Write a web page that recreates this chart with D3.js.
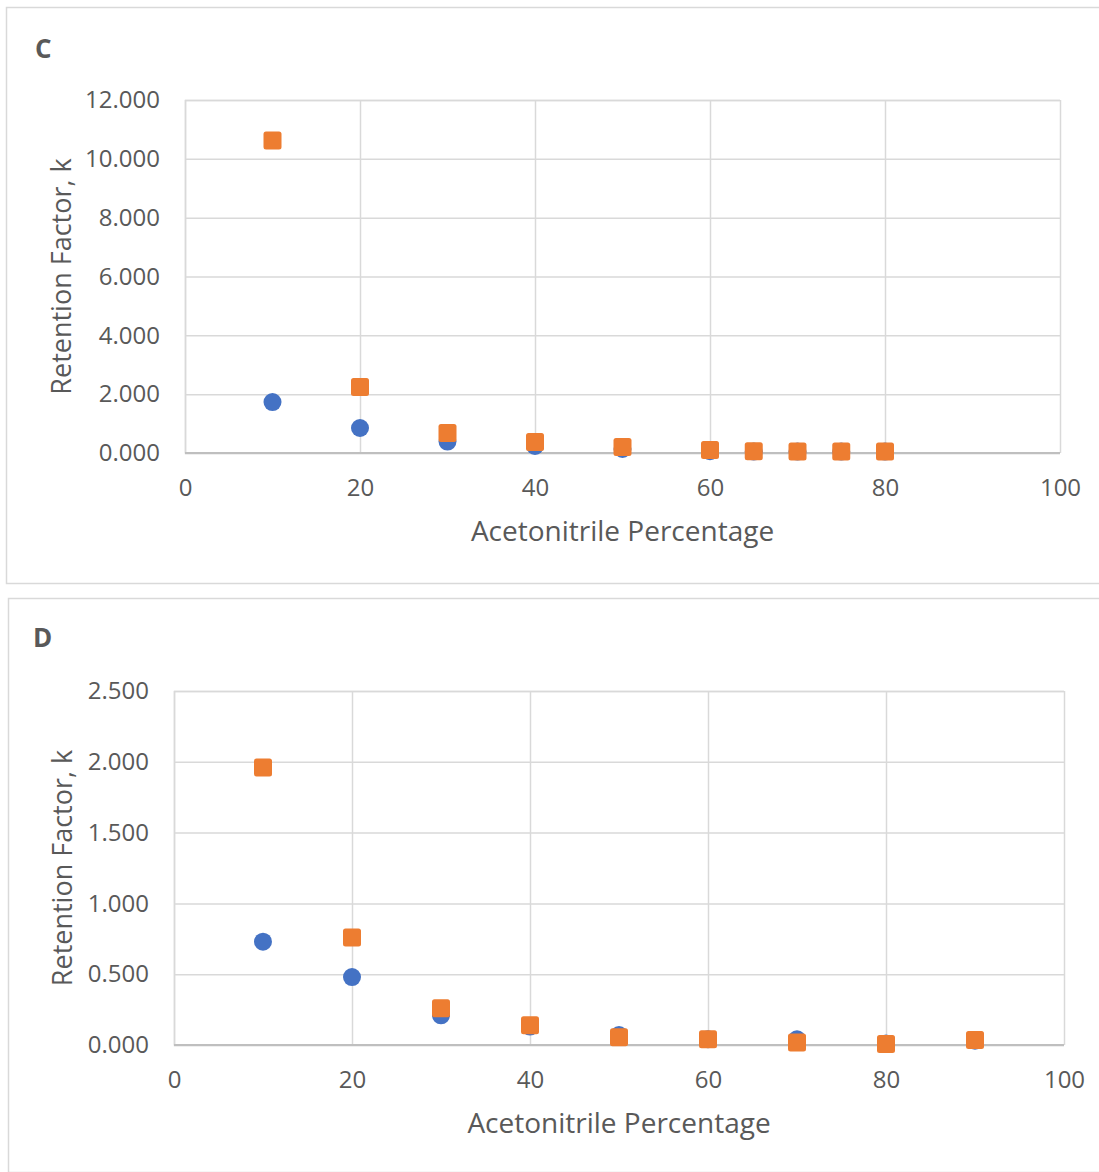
<!DOCTYPE html>
<html>
<head>
<meta charset="utf-8">
<script src="https://cdn.jsdelivr.net/npm/d3@7"></script>
<style>
  html, body { margin: 0; padding: 0; background: #ffffff; }
  svg { display: block; }
  text { font-family: "Open Sans", "Noto Sans", sans-serif; fill: #595959; }
</style>
</head>
<body>
<svg id="chart" width="1099" height="1172"></svg>
<script>
// Acetonitrile percentage (x) and retention factor k (y) for each panel
const acnC = [10, 20, 30, 40, 50, 60, 65, 70, 75, 80];
const kBlueC = [1.73, 0.85, 0.39, 0.24, 0.14, 0.06, 0.05, 0.05, 0.05, 0.05];
const kOrangeC = [10.62, 2.24, 0.68, 0.37, 0.20, 0.10, 0.06, 0.05, 0.05, 0.05];

const acnD = [10, 20, 30, 40, 50, 60, 70, 80, 90];
const kBlueD = [0.73, 0.48, 0.21, 0.13, 0.07, 0.04, 0.04, 0.01, 0.03];
const kOrangeD = [1.96, 0.76, 0.26, 0.14, 0.055, 0.04, 0.017, 0.007, 0.035];

const xTicks = [0, 20, 40, 60, 80, 100];
const yTicksC = [0, 2, 4, 6, 8, 10, 12];
const yTicksD = [0, 0.5, 1, 1.5, 2, 2.5];

const xTitle = "Acetonitrile Percentage";
const yTitle = "Retention Factor, k";

const BLUE = "#4472C4";
const ORANGE = "#ED7D31";
const GRID = "#d9d9d9";
const TEXT = "#595959";

const svg = d3.select("#chart");

function panel(opt) {
  const g = svg.append("g");

  // outer chart frame
  g.append("rect")
    .attr("x", opt.frame[0] + 0.5).attr("y", opt.frame[1] + 0.5)
    .attr("width", opt.frame[2]).attr("height", opt.frame[3])
    .attr("fill", "#fff").attr("stroke", GRID).attr("stroke-width", 1.5);

  g.append("text")
    .attr("x", opt.label[0]).attr("y", opt.label[1])
    .attr("font-size", 26).attr("font-weight", "bold")
    .text(opt.name);

  const x = d3.scaleLinear().domain([0, 100]).range([opt.plot[0], opt.plot[2]]);
  const y = d3.scaleLinear().domain([0, d3.max(opt.yTicks)]).range([opt.plot[3], opt.plot[1]]);

  // horizontal gridlines + y tick labels
  const yAxis = d3.axisLeft(y).tickValues(opt.yTicks).tickFormat(d3.format(".3f"))
    .tickSize(-(opt.plot[2] - opt.plot[0])).tickPadding(25);
  const ya = g.append("g").attr("transform", `translate(${opt.plot[0]},0)`).call(yAxis);
  ya.select(".domain").attr("stroke", GRID).attr("stroke-width", 1.5);
  ya.selectAll(".tick line").attr("stroke", GRID).attr("stroke-width", 1.5);
  ya.selectAll(".tick text").attr("font-size", 24).attr("fill", TEXT)
    .attr("font-family", "Open Sans");

  // vertical gridlines + x tick labels
  const xAxis = d3.axisBottom(x).tickValues(xTicks).tickFormat(d3.format("d"))
    .tickSize(-(opt.plot[3] - opt.plot[1])).tickPadding(26);
  const xa = g.append("g").attr("transform", `translate(0,${opt.plot[3]})`).call(xAxis);
  xa.select(".domain").remove();
  xa.selectAll(".tick line").attr("stroke", GRID).attr("stroke-width", 1.5);
  xa.selectAll(".tick text").attr("font-size", 24).attr("fill", TEXT)
    .attr("font-family", "Open Sans");

  // baseline at k = 0
  g.append("line")
    .attr("x1", opt.plot[0]).attr("x2", opt.plot[2])
    .attr("y1", y(0)).attr("y2", y(0))
    .attr("stroke", "#bfbfbf").attr("stroke-width", 2);

  // axis titles
  g.append("text")
    .attr("x", (opt.plot[0] + opt.plot[2]) / 2 + opt.xTitleDx).attr("y", opt.xTitleY)
    .attr("text-anchor", "middle").attr("font-size", 28)
    .text(xTitle);
  g.append("text")
    .attr("transform", `translate(${opt.yTitleX},${(opt.plot[1] + opt.plot[3]) / 2}) rotate(-90)`)
    .attr("text-anchor", "middle").attr("font-size", 27)
    .text(yTitle);

  // series 1: circles
  g.append("g").selectAll("circle")
    .data(opt.xs.map((v, i) => [v, opt.blue[i]]))
    .join("circle")
    .attr("cx", d => x(d[0])).attr("cy", d => y(d[1]))
    .attr("r", 9).attr("fill", BLUE);

  // series 2: squares
  const s = 18;
  g.append("g").selectAll("rect")
    .data(opt.xs.map((v, i) => [v, opt.orange[i]]))
    .join("rect")
    .attr("x", d => x(d[0]) - s / 2).attr("y", d => y(d[1]) - s / 2)
    .attr("width", s).attr("height", s).attr("rx", 2.5)
    .attr("fill", ORANGE);
}

panel({
  name: "C", frame: [6, 7, 1100, 576], label: [35, 58],
  plot: [185, 100, 1060, 453],
  yTicks: yTicksC, xs: acnC, blue: kBlueC, orange: kOrangeC,
  xTitleY: 541, xTitleDx: 0, yTitleX: 71
});

panel({
  name: "D", frame: [8, 598, 1100, 574], label: [33, 647],
  plot: [174, 691, 1064, 1045],
  yTicks: yTicksD, xs: acnD, blue: kBlueD, orange: kOrangeD,
  xTitleY: 1133, xTitleDx: 0, yTitleX: 72
});
</script>
</body>
</html>
